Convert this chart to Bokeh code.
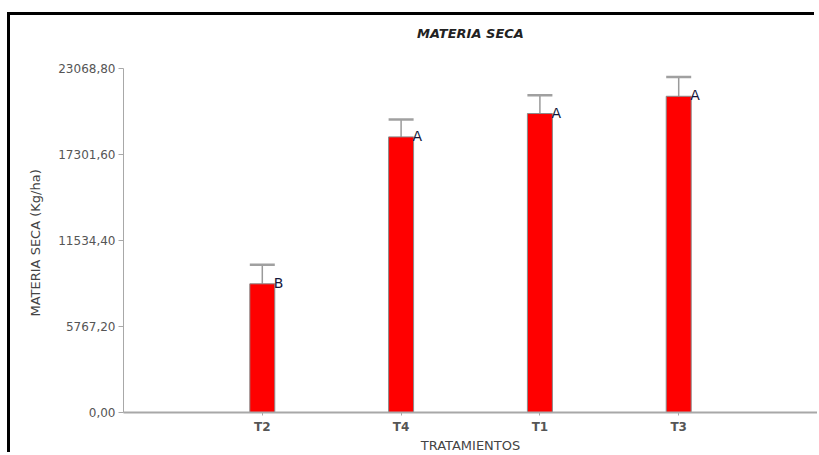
from bokeh.plotting import figure
from bokeh.models import (Range1d, FixedTicker, CustomJSTickFormatter, ColumnDataSource,
                          Whisker, TeeHead, Title)
from bokeh.core.properties import value
from bokeh.embed import file_html
from bokeh.resources import INLINE

# ---- data ----
categories = ["T2", "T4", "T1", "T3"]
means = [8626, 18476, 20041, 21198]
upper = [9897, 19640, 21265, 22488]
letters = ["B", "A", "A", "A"]
y_ticks = [0.0, 5767.2, 11534.4, 17301.6, 23068.8]
title_text = "MATERIA SECA"
y_label = "MATERIA SECA (Kg/ha)"
x_label = "TRATAMIENTOS"

positions = [i + 1 for i in range(len(categories))]
bar_w = 0.18

FONT = "DejaVu Sans"

units_per_px = y_ticks[-1] / 345.0
y_top = y_ticks[-1] + 50 * units_per_px
title_y = y_ticks[-1] + 35 * units_per_px

src = ColumnDataSource(dict(x=positions, top=means, upper=upper, letters=letters,
                            lx=[p_ + bar_w / 2 for p_ in positions]))
title_src = ColumnDataSource(dict(x=[2.5], y=[title_y], t=[title_text]))

p = figure(width=807, height=440, output_backend="svg", toolbar_location=None,
           x_range=Range1d(0, 5), y_range=Range1d(0, y_top),
           min_border_left=113, min_border_right=0, min_border_top=3, min_border_bottom=42)
p.styles = {"margin-left": "10px", "margin-top": "15px", "margin-bottom": "-30px",
            "box-shadow": "-3px -3px 0 0 #000000"}
p.outline_line_color = None
p.xgrid.visible = False
p.ygrid.visible = False
p.background_fill_color = "white"
p.border_fill_color = "white"

p.text(x="x", y="y", text="t", source=title_src, text_font=value(FONT),
       text_font_size="13px", text_font_style="bold italic", text_color="#222222",
       text_align="center", text_baseline="middle")

p.vbar(x="x", top="top", width=bar_w, bottom=0, source=src,
       fill_color="#FF0000", line_color="#8a8a8a", line_width=1)

wh = Whisker(base="x", lower="top", upper="upper", source=src, dimension="height",
             line_color="#9a9a9a", line_width=1.5,
             upper_head=TeeHead(size=25, line_color="#a0a0a0", line_width=2.5),
             lower_head=None)
p.add_layout(wh)

p.text(x="lx", y="top", text="letters", source=src, text_font=value(FONT),
       text_font_size="14px", text_color="#14163a", text_baseline="alphabetic",
       text_align="left", x_offset=-1, y_offset=-1)

# y axis
p.yaxis.ticker = FixedTicker(ticks=y_ticks)
p.yaxis.bounds = (0, y_ticks[-1])
p.yaxis.formatter = CustomJSTickFormatter(code="return tick.toFixed(2).replace('.', ',');")
p.yaxis.major_label_text_font = FONT
p.yaxis.major_label_text_font_size = "12px"
p.yaxis.major_label_text_color = "#555555"
p.yaxis.major_label_standoff = 3
p.yaxis.axis_line_color = "#a8a8a8"
p.yaxis.major_tick_line_color = "#a8a8a8"
p.yaxis.major_tick_out = 5
p.yaxis.major_tick_in = 0
p.yaxis.minor_tick_line_color = None

# y axis label as a side title
ylab = Title(text=y_label, align="left", offset=96, standoff=26,
             text_font=FONT, text_font_size="13px", text_font_style="normal",
             text_color="#444444")
p.add_layout(ylab, "left")

# x axis
p.xaxis.ticker = FixedTicker(ticks=positions)
p.xaxis.major_label_overrides = {pos: c for pos, c in zip(positions, categories)}
p.xaxis.axis_label = x_label
p.xaxis.axis_label_text_font = FONT
p.xaxis.axis_label_text_font_size = "13px"
p.xaxis.axis_label_text_font_style = "normal"
p.xaxis.axis_label_text_color = "#444444"
p.xaxis.axis_label_standoff = 1
p.xaxis.major_label_text_font = FONT
p.xaxis.major_label_text_font_size = "12px"
p.xaxis.major_label_text_font_style = "bold"
p.xaxis.major_label_text_color = "#555555"
p.xaxis.major_label_standoff = 4
p.xaxis.axis_line_color = "#a8a8a8"
p.xaxis.axis_line_width = 2
p.xaxis.major_tick_line_color = "#a8a8a8"
p.xaxis.major_tick_out = 3
p.xaxis.major_tick_in = 0
p.xaxis.minor_tick_line_color = None

open("out.html", "w").write(file_html(p, INLINE))
